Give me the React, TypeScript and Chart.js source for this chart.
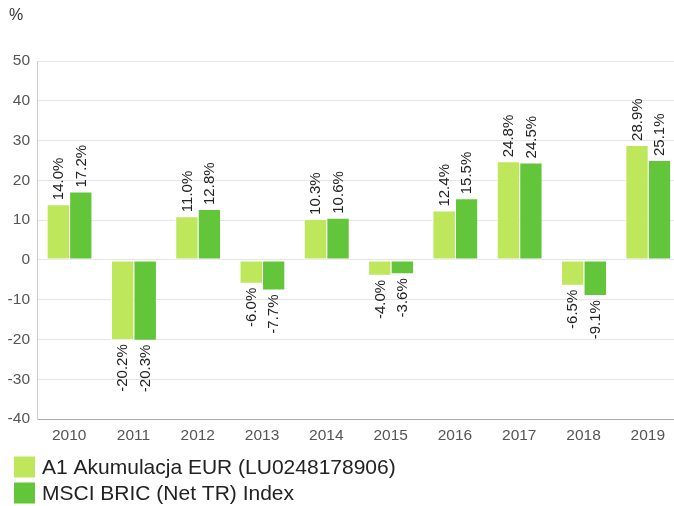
import React, { useEffect, useRef } from "react";
import { Chart, registerables } from "chart.js";

Chart.register(...registerables);

const categories = ["2010", "2011", "2012", "2013", "2014", "2015", "2016", "2017", "2018", "2019"];
const fundValues = [14.0, -20.2, 11.0, -6.0, 10.3, -4.0, 12.4, 24.8, -6.5, 28.9];
const indexValues = [17.2, -20.3, 12.8, -7.7, 10.6, -3.6, 15.5, 24.5, -9.1, 25.1];
const seriesNames = ["A1 Akumulacja EUR (LU0248178906)", "MSCI BRIC (Net TR) Index"];
const seriesColors = ["#bee75c", "#63c63a"];
const yMin = -40;
const yMax = 50;
const yStep = 10;
const unitLabel = "%";

const FONT = "'Liberation Sans', Arial, sans-serif";

const labelPlugin = {
  id: "barLabels",
  afterDatasetsDraw(chart: any) {
    const ctx = chart.ctx;
    ctx.save();
    ctx.font = `15px ${FONT}`;
    ctx.fillStyle = "#222";
    ctx.textBaseline = "middle";
    chart.data.datasets.forEach((ds: any, di: number) => {
      const meta = chart.getDatasetMeta(di);
      meta.data.forEach((el: any, i: number) => {
        const v = ds.data[i];
        const txt = v.toFixed(1) + "%";
        ctx.save();
        if (v >= 0) {
          ctx.translate(el.x, el.y - 4);
          ctx.rotate(-Math.PI / 2);
          ctx.textAlign = "left";
        } else {
          ctx.translate(el.x, el.y + 4);
          ctx.rotate(-Math.PI / 2);
          ctx.textAlign = "right";
        }
        ctx.fillText(txt, 0, 1);
        ctx.restore();
      });
    });
    ctx.restore();
  },
};

const extrasPlugin = {
  id: "extras",
  afterDraw(chart: any) {
    const ctx = chart.ctx;
    ctx.save();
    ctx.fillStyle = "#333";
    ctx.font = `16px ${FONT}`;
    ctx.textAlign = "left";
    ctx.textBaseline = "middle";
    ctx.fillText(unitLabel, 9, 16);
    // legend
    ctx.font = `21px ${FONT}`;
    seriesNames.forEach((name, i) => {
      const cy = 467 + i * 26;
      ctx.fillStyle = seriesColors[i];
      ctx.fillRect(14, cy - 10.5, 21, 21);
      ctx.fillStyle = "#222";
      ctx.fillText(name, 42, cy + 1);
    });
    ctx.restore();
  },
};

export default function App() {
  const ref = useRef<HTMLCanvasElement>(null);
  useEffect(() => {
    if (!ref.current) return;
    const chart = new Chart(ref.current, {
      type: "bar",
      data: {
        labels: categories,
        datasets: [
          {
            label: seriesNames[0],
            data: fundValues,
            backgroundColor: seriesColors[0],
            borderColor: "#ffffff",
            borderWidth: { left: 1, right: 0, top: 1, bottom: 1 } as any,
            borderSkipped: false,
            categoryPercentage: 0.7,
            barPercentage: 1.0,
          },
          {
            label: seriesNames[1],
            data: indexValues,
            backgroundColor: seriesColors[1],
            borderColor: "#ffffff",
            borderWidth: { left: 1, right: 0, top: 1, bottom: 1 } as any,
            borderSkipped: false,
            categoryPercentage: 0.7,
            barPercentage: 1.0,
          },
        ],
      },
      options: {
        responsive: false,
        animation: false,
        layout: { padding: { left: 0, right: 0, top: 61, bottom: 57 } },
        plugins: {
          legend: { display: false },
          tooltip: { enabled: false },
          title: { display: false },
        },
        scales: {
          x: {
            grid: { display: false, drawTicks: false },
            border: { display: true, color: "#aaaaaa", width: 1 },
            ticks: { color: "#555", font: { size: 15.5, family: FONT }, padding: 7, maxRotation: 0 },
            afterFit: (s: any) => {
              s.height = 30;
            },
          },
          y: {
            min: yMin,
            max: yMax,
            grid: { color: "#e6e6e6", drawTicks: false, lineWidth: 1 },
            border: { display: true, color: "#cccccc", width: 1 },
            ticks: { stepSize: yStep, color: "#555", font: { size: 15.5, family: FONT }, padding: 7 },
            afterFit: (s: any) => {
              s.width = 37;
            },
          },
        },
      },
      plugins: [labelPlugin, extrasPlugin],
    });
    return () => chart.destroy();
  }, []);
  return (
    <div
      style={{
        position: "fixed",
        left: 0,
        top: 0,
        width: 674,
        height: 506,
        overflow: "hidden",
        background: "#fff",
      }}
    >
      <canvas ref={ref} width={680} height={506} style={{ display: "block" }} />
    </div>
  );
}
